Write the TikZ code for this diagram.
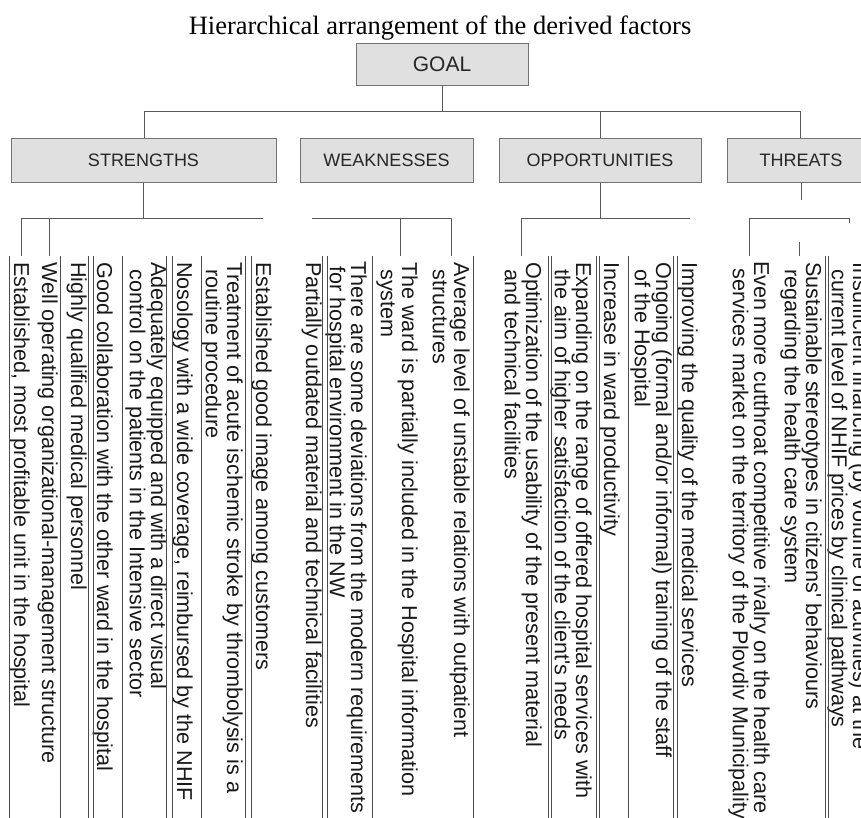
\documentclass[tikz,border=0pt]{standalone}
\usepackage{fontspec}
\setmainfont{Liberation Serif}
\newfontfamily\arialfont{Liberation Sans}

\newcommand{\stripfont}{\arialfont\fontsize{21.6}{21.3}\selectfont}
\newcommand{\headfont}{\arialfont\fontsize{18}{20}\selectfont}

\begin{document}
\begin{tikzpicture}[x=1pt, y=-1pt,
  box/.style={draw=black!55, fill=black!12, line width=0.8pt, minimum height=44pt, inner sep=0pt, font=\headfont, text=black!85},
  factor/.style={rotate=-90, anchor=north west, align=left, inner sep=0pt, font=\stripfont, text=black!90},
  link/.style={draw=black!65, line width=0.9pt},
  rule/.style={draw=black!70, line width=0.8pt}]
\useasboundingbox (0,0) rectangle (861,818);

\node[font=\fontsize{26.5}{28}\selectfont, anchor=base] (title) at (440,35) {Hierarchical arrangement of the derived factors};

% goal and the four groups
\node[box, minimum width=172pt, minimum height=42pt, font=\arialfont\fontsize{21}{22}\selectfont] (goal) at (442,64) {GOAL};
\node[box, minimum width=265pt] (strengths) at (143.5,160.5) {STRENGTHS};
\node[box, minimum width=173pt] (weaknesses) at (386.5,160.5) {WEAKNESSES};
\node[box, minimum width=202pt] (opportunities) at (600,160.5) {OPPORTUNITIES};
\node[box, minimum width=148pt] (threats) at (801,160.5) {THREATS};

\coordinate (topL) at (144,111);
\coordinate (topR) at (800,111);
\coordinate (striptop) at (0,256);
\path[link] (goal.south) edge (goal.south |- topL);
\path[link] (topL) edge (topR);
\path[link] (topL) edge (topL |- strengths.north);
\path[link] (opportunities.north) edge (opportunities.north |- topL);
\path[link] (topR) edge (topR |- threats.north);

% strengths
\coordinate (sL) at (21,218);
\coordinate (sM) at (49,218);
\coordinate (sR) at (263,218);
\path[link] (strengths.south) edge (strengths.south |- sL);
\path[link] (sL) edge (sR);
\path[link] (sL) edge (sL |- striptop);
\path[link] (sM) edge (sM |- striptop);
\node[factor] (s1) at (30,262) {Established, most profitable unit in the hospital};
\node[factor] (s2) at (58,262) {Well operating organizational-management structure};
\node[factor] (s3) at (87,262) {Highly qualified medical personnel};
\node[factor] (s4) at (113,262) {Good collaboration with the other ward in the hospital};
\node[factor] (s5) at (167,262) {Adequately equipped and with a direct visual\\\hspace*{7pt}control on the patients in the Intensive sector};
\node[factor] (s6) at (193,262) {Nosology with a wide coverage, reimbursed by the NHIF};
\node[factor] (s7) at (243,262) {Treatment of acute ischemic stroke by thrombolysis is a\\\hspace*{7pt}routine procedure};
\node[factor] (s8) at (272,262) {Established good image among customers};

% weaknesses
\coordinate (wL) at (312,218);
\coordinate (wM) at (400,218);
\coordinate (wR) at (451,218);
\path[link] (wL) edge (wR);
\path[link] (wM) edge (wM |- striptop);
\path[link] (wR) edge (wR |- striptop);
\node[factor] (w1) at (322,262) {Partially outdated material and technical facilities};
\node[factor] (w2) at (367,261) {There are some deviations from the modern requirements\\\hspace*{5pt}for hospital environment in the NW};
\node[factor] (w3) at (418,262) {The ward is partially included in the Hospital information\\\hspace*{7pt}system};
\node[factor] (w4) at (470,262) {Average level of unstable relations with outpatient\\\hspace*{7pt}structures};

% opportunities
\coordinate (oL) at (521,218);
\coordinate (oR) at (690,218);
\path[link] (opportunities.south) edge (opportunities.south |- oL);
\path[link] (oL) edge (oR);
\path[link] (oL) edge (oL |- striptop);
\node[factor] (o1) at (542,262) {Optimization of the usability of the present material\\\hspace*{7pt}and technical facilities};
\node[factor] (o2) at (592,262) {Expanding on the range of offered hospital services with\\\hspace*{7pt}the aim of higher satisfaction of the client's needs};
\node[factor] (o3) at (620,262) {Increase in ward productivity};
\node[factor] (o4) at (672,262) {Ongoing (formal and/or informal) training of the staff\\\hspace*{7pt}of the Hospital};
\node[factor] (o5) at (698,262) {Improving the quality of the medical services};

% threats
\coordinate (tL) at (749,218);
\coordinate (tS) at (799,242);
\coordinate (tR) at (849,218);
\path[link] (threats.south) edge ++(0,17);
\path[link] (tL) edge (tR);
\path[link] (tL) edge (tL |- striptop);
\path[link] (tS) edge (tS |- striptop);
\path[link] (tR) edge ++(0,5);
\node[factor] (t1) at (770,261) {Even more cutthroat competitive rivalry on the health care\\\hspace*{7pt}services market on the territory of the Plovdiv Municipality};
\node[factor] (t2) at (822,262) {Sustainable stereotypes in citizens' behaviours\\\hspace*{7pt}regarding the health care system};
\node[factor] (t3) at (869,262) {Insufficient financing (by volume of activities) at the\\\hspace*{7pt}current level of NHIF prices by clinical pathways};

% strip borders
\draw[rule] (9,256) -- (9,830) (60,256) -- (60,830) (88,256) -- (88,830) (93,256) -- (93,830)
  (122,256) -- (122,830) (166,256) -- (166,830) (172,256) -- (172,830) (201,256) -- (201,830)
  (245,256) -- (245,830) (251,256) -- (251,830)
  (322,256) -- (322,830) (327,256) -- (327,830) (372,256) -- (372,830) (473,256) -- (473,830)
  (548,256) -- (548,830) (551,256) -- (551,830) (596,256) -- (596,830) (599,256) -- (599,830)
  (628,256) -- (628,830) (673,256) -- (673,830) (677,256) -- (677,830)
  (825,256) -- (825,830) (828,256) -- (828,830);
\end{tikzpicture}
\end{document}
